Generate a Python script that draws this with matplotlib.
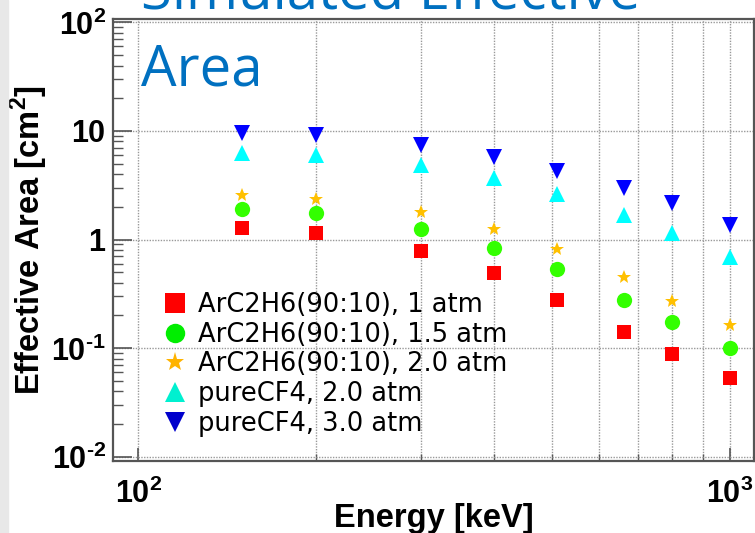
import matplotlib
matplotlib.use("Agg")
import matplotlib.pyplot as plt
from matplotlib.lines import Line2D
from matplotlib.patches import Rectangle
from matplotlib.ticker import FixedLocator, FixedFormatter, LogLocator, NullFormatter

# Simulated effective area vs. gamma energy
energy = [150, 200, 300, 400, 511, 662, 800, 1000]  # keV
arc2h6_1atm = [1.28, 1.14, 0.78, 0.49, 0.28, 0.14, 0.089, 0.053]
arc2h6_15atm = [1.89, 1.77, 1.26, 0.84, 0.54, 0.28, 0.174, 0.101]
arc2h6_20atm = [2.56, 2.35, 1.80, 1.25, 0.81, 0.45, 0.27, 0.164]
cf4_20atm = [6.2, 6.0, 4.85, 3.65, 2.6, 1.68, 1.16, 0.69]
cf4_30atm = [9.6, 9.2, 7.4, 5.7, 4.3, 2.95, 2.15, 1.37]

labels = [
    "ArC2H6(90:10), 1 atm",
    "ArC2H6(90:10), 1.5 atm",
    "ArC2H6(90:10), 2.0 atm",
    "pureCF4, 2.0 atm",
    "pureCF4, 3.0 atm",
]
series = [arc2h6_1atm, arc2h6_15atm, arc2h6_20atm, cf4_20atm, cf4_30atm]

y_ticks = [1e-2, 1e-1, 1, 10, 100]
y_ticklabels = [r"$\mathbf{10}^{\text{-}\mathbf{2}}$", r"$\mathbf{10}^{\text{-}\mathbf{1}}$",
                r"$\mathbf{1}$", r"$\mathbf{10}$", r"$\mathbf{10}^{\mathbf{2}}$"]
x_ticks = [100, 1000]
x_ticklabels = [r"$\mathbf{10}^{\mathbf{2}}$", r"$\mathbf{10}^{\mathbf{3}}$"]

# marker style: (marker, plot colour, plot size, legend colour)
styles = [
    ("s", "#ff0000", 10.5, "#ff0000"),
    ("o", "#33ff00", 11.0, "#00ee00"),
    ("*", "#ffc000", 10.5, "#ffb300"),
    ("^", "#00ffff", 11.0, "#00f0d0"),
    ("v", "#0000ff", 11.0, "#0000cc"),
]

plt.rcParams["mathtext.fontset"] = "custom"
plt.rcParams["mathtext.rm"] = "Liberation Sans:bold"
plt.rcParams["mathtext.bf"] = "Liberation Sans:bold"

fig = plt.figure(figsize=(7.55, 5.33), dpi=100)
ax = fig.add_axes([113 / 755, 72 / 533, 641 / 755, 442 / 533])

for vals, (mk, col, ms, _) in zip(series, styles):
    ax.plot(energy, vals, linestyle="none", marker=mk, color=col,
            markersize=ms, markeredgewidth=0, zorder=3)

ax.set_xscale("log")
ax.set_yscale("log")
ax.set_xlim(90.6, 1099)
ax.set_ylim(0.00913, 107.3)

ax.yaxis.set_major_locator(FixedLocator(y_ticks))
ax.yaxis.set_major_formatter(FixedFormatter(y_ticklabels))
ax.yaxis.set_minor_locator(LogLocator(base=10, subs=range(2, 10)))
ax.yaxis.set_minor_formatter(NullFormatter())
ax.xaxis.set_major_locator(FixedLocator(x_ticks))
ax.xaxis.set_major_formatter(FixedFormatter(x_ticklabels))
ax.xaxis.set_minor_locator(LogLocator(base=10, subs=range(2, 10)))
ax.xaxis.set_minor_formatter(NullFormatter())

ax.tick_params(axis="y", which="major", direction="in", length=13.5, width=1.2,
               color="#555555", labelsize=22, pad=5)
ax.tick_params(axis="y", which="minor", direction="in", length=7, width=1.0,
               color="#555555")
ax.tick_params(axis="x", which="major", direction="in", length=9.5, width=1.2,
               color="#555555", labelsize=22, pad=12)
ax.tick_params(axis="x", which="minor", direction="in", length=5, width=1.0,
               color="#555555")

for sp in ax.spines.values():
    sp.set_color("#555555")
    sp.set_linewidth(1.6)

ax.grid(True, axis="x", which="both", color="#999999", linestyle=(0, (1, 1)), linewidth=1)
ax.grid(True, axis="y", which="major", color="#999999", linestyle=(0, (1, 1)), linewidth=1)
ax.set_axisbelow(True)

ax.set_xlabel("Energy [keV]", fontsize=23.5, fontweight="bold", family="Liberation Sans")
ax.xaxis.set_label_coords(0.5, -0.094)
ax.set_ylabel(r"Effective Area [cm$^{\mathbf{2}}$]", fontsize=23.5, fontweight="bold",
              family="Liberation Sans", va="center")
ax.yaxis.set_label_coords(-0.131, 0.5)

handles = [Line2D([], [], linestyle="none", marker=mk, color=lc, markersize=14,
                  markeredgewidth=0) for mk, _, _, lc in styles]
ax.legend(handles, labels, loc="upper left", bbox_to_anchor=(0.078, 0.382),
          frameon=False, prop={"family": "DejaVu Sans", "size": 18.5},
          handlelength=0.95, handletextpad=0.4, labelspacing=0.14,
          borderpad=0, borderaxespad=0)

# slide title overlapping the plot
fig.text(141 / 755, 1 - 10 / 533, "Simulated Effective", color="#0070c0",
         fontsize=40.5, family="Open Sans", va="baseline", ha="left")
fig.text(141 / 755, 1 - 85 / 533, "Area", color="#0070c0",
         fontsize=40.5, family="Open Sans", va="baseline", ha="left")

fig.patches.append(Rectangle((0, 0), 8 / 755, 1, transform=fig.transFigure,
                             color="#e8e8e8", zorder=0))

fig.savefig("out.png", dpi=100)
